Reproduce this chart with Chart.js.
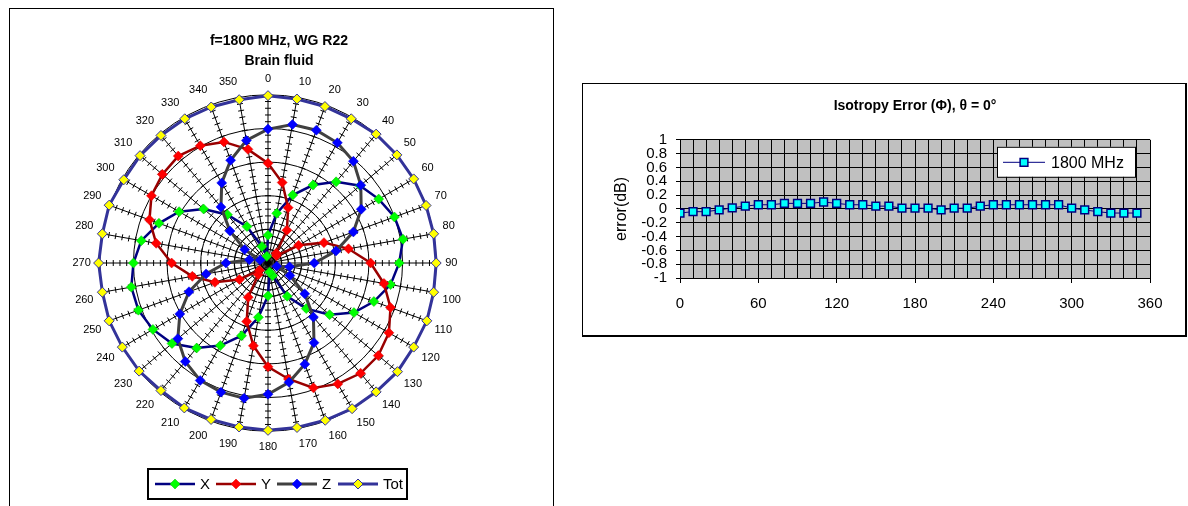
<!DOCTYPE html>
<html>
<head>
<meta charset="utf-8">
<script src="https://cdn.jsdelivr.net/npm/chart.js@4.4.1/dist/chart.umd.min.js"></script>
<style>
html,body{margin:0;padding:0;background:#fff;width:1188px;height:506px;overflow:hidden;}
#leftBox{position:absolute;left:9px;top:8px;width:545px;height:520px;border:1px solid #000;box-sizing:border-box;}
#polar{position:absolute;left:8px;top:8px;}
#rightBox{position:absolute;left:582px;top:83px;width:605px;height:254px;border:1px solid #000;border-right-width:2px;border-bottom-width:2px;box-sizing:border-box;}
#err{position:absolute;left:582px;top:83px;}
</style>
</head>
<body>
<div id="leftBox"></div>
<canvas id="polar" width="545" height="498"></canvas>
<div id="rightBox"></div>
<canvas id="err" width="604" height="253"></canvas>
<script>
// ---------- data ----------
const angleLabels = ['0','10','20','30','40','50','60','70','80','90','100','110','120','130','140','150','160','170',
  '180','190','200','210','220','230','240','250','260','270','280','290','300','310','320','330','340','350'];
const xValues = [0.165,0.30,0.43,0.535,0.63,0.715,0.76,0.80,0.815,0.78,0.74,0.67,0.59,0.478,0.354,0.228,0.08,0.055,
  0.195,0.328,0.46,0.567,0.66,0.745,0.79,0.82,0.825,0.80,0.765,0.69,0.61,0.50,0.375,0.25,0.105,0.04];
const yValues = [0.593,0.486,0.35,0.225,0.076,0.066,0.21,0.354,0.486,0.61,0.70,0.775,0.83,0.856,0.856,0.83,0.79,0.70,
  0.617,0.50,0.37,0.235,0.09,0.066,0.196,0.336,0.457,0.573,0.675,0.75,0.80,0.82,0.83,0.805,0.766,0.686];
const zValues = [0.796,0.836,0.84,0.825,0.79,0.72,0.64,0.54,0.41,0.275,0.13,0.055,0.15,0.285,0.42,0.547,0.64,0.72,
  0.78,0.816,0.817,0.806,0.765,0.70,0.605,0.50,0.374,0.25,0.113,0.05,0.16,0.295,0.435,0.55,0.65,0.74];
const totValues = [0.995,0.99,0.99,0.99,1.0,1.0,1.0,1.0,1.0,1.0,1.0,1.005,1.0,1.005,1.0,1.0,0.995,0.993,
  0.995,0.99,0.99,0.995,0.99,1.0,1.0,1.005,1.0,1.007,1.0,1.005,0.99,0.993,0.99,0.99,0.987,0.986];

const phiValues = [0,10,20,30,40,50,60,70,80,90,100,110,120,130,140,150,160,170,
  180,190,200,210,220,230,240,250,260,270,280,290,300,310,320,330,340,350];
const errValues = [-0.06,-0.04,-0.04,-0.015,0.015,0.04,0.06,0.06,0.08,0.08,0.08,0.10,0.08,0.06,0.06,0.04,0.04,0.01,
  0.01,0.01,-0.015,0.01,0.01,0.04,0.06,0.06,0.06,0.06,0.06,0.06,0.01,-0.015,-0.04,-0.06,-0.06,-0.06];

const polarTitle = ['f=1800 MHz, WG R22', 'Brain fluid'];
const errTitle = 'Isotropy Error (\u03A6), \u03B8 = 0\u00B0';
const errAxisTitle = 'error(dB)';
const errSeriesName = '1800 MHz';

// ---------- setup ----------
const FONT = "'Liberation Sans', Arial, sans-serif";
Chart.defaults.font.family = FONT;
Chart.defaults.color = '#000';
const minorUnit = 0.04;

function drawLegendSample(ctx, ds, x0, x1, y) {
  ctx.save();
  ctx.strokeStyle = ds.borderColor;
  ctx.lineWidth = ds.borderWidth;
  ctx.beginPath(); ctx.moveTo(x0, y); ctx.lineTo(x1, y); ctx.stroke();
  ctx.fillStyle = ds.pointBackgroundColor;
  ctx.strokeStyle = ds.pointBorderColor;
  ctx.lineWidth = ds.pointBorderWidth;
  Chart.helpers.drawPoint(ctx, {pointStyle: ds.pointStyle, radius: ds.pointRadius, borderWidth: ds.pointBorderWidth, rotation: 0}, (x0 + x1) / 2, y);
  ctx.restore();
}

const spokeTicks = {
  id: 'spokeTicks',
  beforeDatasetsDraw(chart) {
    const s = chart.scales.r, ctx = chart.ctx;
    const n = Math.round((s.max - s.min) / minorUnit);
    ctx.save();
    ctx.strokeStyle = '#000';
    ctx.lineWidth = 1;
    ctx.beginPath();
    for (let i = 0; i < angleLabels.length; i++) {
      const a = s.getIndexAngle(i) - Math.PI / 2;
      const px = -Math.sin(a), py = Math.cos(a);
      for (let k = 1; k <= n; k++) {
        const p = s.getPointPositionForValue(i, s.min + k * minorUnit);
        ctx.moveTo(p.x - px * 3, p.y - py * 3);
        ctx.lineTo(p.x + px * 3, p.y + py * 3);
      }
    }
    ctx.stroke();
    ctx.restore();
  }
};

const polarLegend = {
  id: 'polarLegend',
  afterDraw(chart) {
    const ctx = chart.ctx, ca = chart.chartArea;
    const bx = ca.left + 110, by = ca.bottom + 15, bw = 259, bh = 30;
    ctx.save();
    ctx.fillStyle = '#fff';
    ctx.fillRect(bx, by, bw, bh);
    ctx.strokeStyle = '#000';
    ctx.lineWidth = 2;
    ctx.strokeRect(bx, by, bw, bh);
    const cy = by + bh / 2;
    chart.data.datasets.forEach((ds, i) => {
      const ex = bx + 7 + i * 61;
      drawLegendSample(ctx, ds, ex, ex + 40, cy);
      ctx.fillStyle = '#000';
      ctx.font = '15px ' + FONT;
      ctx.textBaseline = 'middle';
      ctx.textAlign = 'left';
      ctx.fillText(ds.label, ex + 45, cy + 1);
    });
    ctx.restore();
  }
};

function mk(label, data, line, marker, lw, border, bw, order, r) {
  return {label, data, borderColor: line, borderWidth: lw, pointStyle: 'rectRot', pointRadius: r,
    pointBackgroundColor: marker, pointBorderColor: border, pointBorderWidth: bw, fill: false, tension: 0, order};
}

new Chart(document.getElementById('polar'), {
  type: 'radar',
  data: {
    labels: angleLabels,
    datasets: [
      mk('X', xValues, '#000080', '#00ff00', 2.5, '#00c000', 0.5, 4, 5),
      mk('Y', yValues, '#990000', '#ff0000', 2.5, '#e00000', 0.5, 3, 5),
      mk('Z', zValues, '#404040', '#0000ff', 3, '#0000e0', 0.5, 2, 5),
      mk('Tot', totValues, '#333399', '#ffff00', 3, '#333399', 1, 1, 5)
    ]
  },
  options: {
    responsive: false,
    animation: false,
    layout: {padding: {left: 30, right: 33, top: 0, bottom: 52}},
    plugins: {
      legend: {display: false},
      tooltip: {enabled: false},
      title: {display: true, text: polarTitle, font: {size: 14, weight: 'bold', lineHeight: 1.45},
        padding: {top: 23, bottom: 1}, color: '#000'}
    },
    scales: {
      r: {
        min: 0, max: 1,
        ticks: {display: false, stepSize: 0.2},
        grid: {circular: true, color: '#000', lineWidth: 1},
        angleLines: {color: '#000', lineWidth: 1},
        pointLabels: {font: {size: 11}, color: '#000', padding: 9}
      },
      pad: {
        type: 'linear', position: 'right', display: true,
        ticks: {display: false}, grid: {display: false}, border: {display: false},
        afterFit(s) { s.width = 22; }
      }
    }
  },
  plugins: [spokeTicks, polarLegend]
});

// ---------- isotropy error chart ----------
const plotBg = {
  id: 'plotBg',
  beforeDraw(chart) {
    const ca = chart.chartArea, ctx = chart.ctx;
    ctx.save();
    ctx.fillStyle = '#c0c0c0';
    ctx.fillRect(ca.left, ca.top, ca.right - ca.left, ca.bottom - ca.top);
    ctx.restore();
  }
};
const errLegend = {
  id: 'errLegend',
  afterDraw(chart) {
    const ctx = chart.ctx, ca = chart.chartArea;
    const bw = 138, bh = 30;
    const bx = ca.right - 15 - bw, by = ca.top + 7;
    ctx.save();
    ctx.fillStyle = '#fff';
    ctx.fillRect(bx, by, bw, bh);
    ctx.strokeStyle = '#000';
    ctx.lineWidth = 1;
    ctx.strokeRect(bx + 0.5, by + 0.5, bw, bh);
    const ds = chart.data.datasets[0];
    const cy = by + bh / 2 + 0.5;
    drawLegendSample(ctx, ds, bx + 6, bx + 48, cy);
    ctx.fillStyle = '#000';
    ctx.font = '16px ' + FONT;
    ctx.textBaseline = 'middle';
    ctx.textAlign = 'left';
    ctx.fillText(ds.label, bx + 54, cy + 1);
    ctx.restore();
  }
};

new Chart(document.getElementById('err'), {
  type: 'line',
  data: {
    datasets: [{
      label: errSeriesName,
      data: phiValues.map((p, i) => ({x: p, y: errValues[i]})),
      borderColor: '#000080', borderWidth: 1,
      pointStyle: 'rect', pointRadius: 5.5,
      pointBackgroundColor: '#00ffff', pointBorderColor: '#000080', pointBorderWidth: 1.5,
      fill: false, tension: 0
    }]
  },
  options: {
    responsive: false,
    animation: false,
    layout: {padding: {left: 26, right: 36, top: 0, bottom: 0}},
    plugins: {
      legend: {display: false},
      tooltip: {enabled: false},
      title: {display: true, text: errTitle, fullSize: false, font: {size: 14, weight: 'bold', lineHeight: 1.2},
        padding: {top: 15, bottom: 25}, color: '#000'}
    },
    scales: {
      x: {
        type: 'linear', min: 0, max: 360,
        ticks: {stepSize: 10, autoSkip: false, maxRotation: 0, padding: 12, font: {size: 15},
          callback: (v) => (v % 60 === 0 ? String(v) : '')},
        grid: {color: '#000', lineWidth: 1, tickLength: 5,
          tickColor: (c) => (c.tick && c.tick.value % 60 === 0 ? '#000' : 'rgba(0,0,0,0)')},
        border: {color: '#000', width: 1},
        afterFit(s) { s.height = 58; }
      },
      y: {
        min: -1, max: 1,
        ticks: {stepSize: 0.2, autoSkip: false, padding: 9, font: {size: 15},
          callback: (v) => String(Number(v.toFixed(1)))},
        grid: {color: '#000', lineWidth: 1, tickLength: 4},
        border: {color: '#000', width: 1},
        title: {display: true, text: errAxisTitle, font: {size: 16}, padding: {top: 4, bottom: 0}},
        afterFit(s) { s.width = 72; }
      }
    }
  },
  plugins: [plotBg, errLegend]
});
</script>
</body>
</html>
